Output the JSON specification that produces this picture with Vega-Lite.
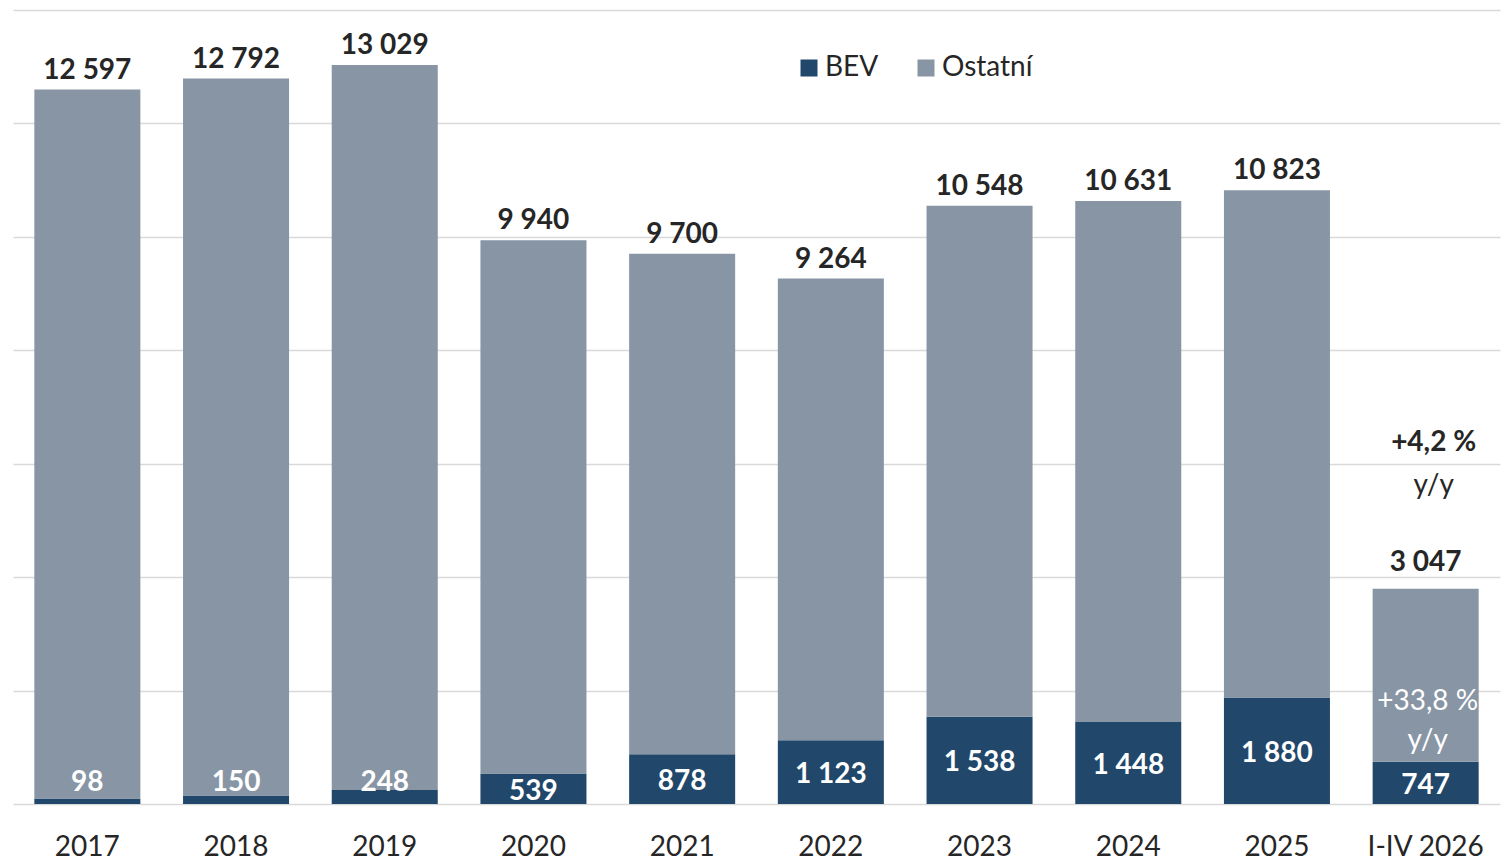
{
  "$schema": "https://vega.github.io/schema/vega-lite/v6.json",
  "width": 1487,
  "height": 794,
  "autosize": {"type": "none"},
  "padding": {"left": 13, "top": 10, "right": 4, "bottom": 55},
  "config": {
    "locale": {"number": {"decimal": ",", "thousands": " ", "grouping": [3], "currency": ["", ""]}},
    "view": {"stroke": null},
    "font": "Lato"
  },
  "datasets": {
    "sales": [
      {"year": "2017", "type": "BEV", "value": 98, "total": 12597},
      {"year": "2017", "type": "Ostatní", "value": 12499, "total": 12597},
      {"year": "2018", "type": "BEV", "value": 150, "total": 12792},
      {"year": "2018", "type": "Ostatní", "value": 12642, "total": 12792},
      {"year": "2019", "type": "BEV", "value": 248, "total": 13029},
      {"year": "2019", "type": "Ostatní", "value": 12781, "total": 13029},
      {"year": "2020", "type": "BEV", "value": 539, "total": 9940},
      {"year": "2020", "type": "Ostatní", "value": 9401, "total": 9940},
      {"year": "2021", "type": "BEV", "value": 878, "total": 9700},
      {"year": "2021", "type": "Ostatní", "value": 8822, "total": 9700},
      {"year": "2022", "type": "BEV", "value": 1123, "total": 9264},
      {"year": "2022", "type": "Ostatní", "value": 8141, "total": 9264},
      {"year": "2023", "type": "BEV", "value": 1538, "total": 10548},
      {"year": "2023", "type": "Ostatní", "value": 9010, "total": 10548},
      {"year": "2024", "type": "BEV", "value": 1448, "total": 10631},
      {"year": "2024", "type": "Ostatní", "value": 9183, "total": 10631},
      {"year": "2025", "type": "BEV", "value": 1880, "total": 10823},
      {"year": "2025", "type": "Ostatní", "value": 8943, "total": 10823},
      {"year": "I-IV 2026", "type": "BEV", "value": 747, "total": 3047},
      {"year": "I-IV 2026", "type": "Ostatní", "value": 3047, "total": 3047}
    ],
    "notes": [
      {"year": "I-IV 2026", "label": "+4,2 %", "kind": "total_pct"},
      {"year": "I-IV 2026", "label": "y/y", "kind": "total_yy"},
      {"year": "I-IV 2026", "label": "+33,8 %", "kind": "bev_pct"},
      {"year": "I-IV 2026", "label": "y/y", "kind": "bev_yy"}
    ]
  },
  "resolve": {"scale": {"y": "independent"}},
  "layer": [
    {
      "data": {"name": "sales"},
      "mark": {"type": "bar"},
      "encoding": {
        "x": {
          "field": "year", "type": "nominal", "sort": null,
          "scale": {"paddingInner": 0.287, "paddingOuter": 0.1435},
          "axis": {"title": null, "labelFont": "Lato", "labelFontSize": 28, "labelColor": "#262626", "ticks": false, "domain": false, "labelPadding": 29, "labelAngle": 0}
        },
        "y": {
          "field": "value", "type": "quantitative", "stack": "zero",
          "scale": {"domain": [0, 14000], "nice": false},
          "axis": {"title": null, "values": [0, 2000, 4000, 6000, 8000, 10000, 12000, 14000], "labels": false, "ticks": false, "domain": false, "grid": true, "gridColor": "#d9d9d9", "gridWidth": 1.5}
        },
        "color": {
          "field": "type", "type": "nominal",
          "scale": {"domain": ["BEV", "Ostatní"], "range": ["#21476a", "#8795a5"]},
          "legend": {"title": null, "orient": "none", "legendX": 782, "legendY": 44, "direction": "horizontal", "symbolType": "square", "symbolSize": 289, "symbolStrokeWidth": 0, "symbolOpacity": 1, "labelFont": "Lato", "labelFontSize": 28, "labelColor": "#262626", "labelOffset": 2, "columnPadding": 33, "padding": 0}
        },
        "order": {"field": "type", "sort": "ascending"}
      }
    },
    {
      "data": {"name": "sales"},
      "transform": [
        {"joinaggregate": [{"op": "sum", "field": "value", "as": "top"}], "groupby": ["year"]},
        {"filter": "datum.type === 'Ostatní' && datum.year !== 'I-IV 2026'"}
      ],
      "mark": {"type": "text", "font": "Lato", "fontSize": 28, "fontWeight": "bold", "color": "#262626", "baseline": "alphabetic", "dy": -11},
      "encoding": {
        "x": {"field": "year", "type": "nominal", "sort": null},
        "y": {"field": "top", "type": "quantitative", "scale": {"domain": [0, 14000], "nice": false}, "axis": null},
        "text": {"field": "total", "type": "quantitative", "format": ",d"}
      }
    },
    {
      "data": {"name": "sales"},
      "transform": [
        {"joinaggregate": [{"op": "sum", "field": "value", "as": "top"}], "groupby": ["year"]},
        {"filter": "datum.type === 'Ostatní' && datum.year === 'I-IV 2026'"}
      ],
      "mark": {"type": "text", "font": "Lato", "fontSize": 28, "fontWeight": "bold", "color": "#262626", "baseline": "alphabetic", "dy": -18},
      "encoding": {
        "x": {"field": "year", "type": "nominal", "sort": null},
        "y": {"field": "top", "type": "quantitative", "scale": {"domain": [0, 14000], "nice": false}, "axis": null},
        "text": {"field": "total", "type": "quantitative", "format": ",d"}
      }
    },
    {
      "data": {"name": "sales"},
      "transform": [{"filter": "datum.type === 'BEV' && datum.value >= 500"}],
      "mark": {"type": "text", "font": "Lato", "fontSize": 28, "fontWeight": "bold", "color": "#ffffff", "baseline": "middle", "dy": 3},
      "encoding": {
        "x": {"field": "year", "type": "nominal", "sort": null},
        "y": {"field": "value", "type": "quantitative", "scale": {"domain": [0, 28000], "nice": false}, "axis": null},
        "text": {"field": "value", "type": "quantitative", "format": ",d"}
      }
    },
    {
      "data": {"name": "sales"},
      "transform": [{"filter": "datum.type === 'BEV' && datum.value < 500"}],
      "mark": {"type": "text", "font": "Lato", "fontSize": 28, "fontWeight": "bold", "color": "#ffffff", "baseline": "middle", "dy": 3},
      "encoding": {
        "x": {"field": "year", "type": "nominal", "sort": null},
        "y": {"datum": 416, "type": "quantitative", "scale": {"domain": [0, 14000], "nice": false}, "axis": null},
        "text": {"field": "value", "type": "quantitative", "format": ",d"}
      }
    },
    {
      "data": {"name": "notes"},
      "transform": [{"filter": "datum.kind === 'total_pct'"}],
      "mark": {"type": "text", "font": "Lato", "fontSize": 28, "fontWeight": "bold", "color": "#262626", "baseline": "alphabetic", "dx": 8},
      "encoding": {
        "x": {"field": "year", "type": "nominal", "sort": null},
        "y": {"datum": 6217, "type": "quantitative", "scale": {"domain": [0, 14000], "nice": false}, "axis": null},
        "text": {"field": "label"}
      }
    },
    {
      "data": {"name": "notes"},
      "transform": [{"filter": "datum.kind === 'total_yy'"}],
      "mark": {"type": "text", "font": "Lato", "fontSize": 28, "color": "#262626", "baseline": "alphabetic", "dx": 8},
      "encoding": {
        "x": {"field": "year", "type": "nominal", "sort": null},
        "y": {"datum": 5466, "type": "quantitative", "scale": {"domain": [0, 14000], "nice": false}, "axis": null},
        "text": {"field": "label"}
      }
    },
    {
      "data": {"name": "notes"},
      "transform": [{"filter": "datum.kind === 'bev_pct'"}],
      "mark": {"type": "text", "font": "Lato", "fontSize": 28, "color": "#ffffff", "baseline": "alphabetic", "dx": 2},
      "encoding": {
        "x": {"field": "year", "type": "nominal", "sort": null},
        "y": {"datum": 1650, "type": "quantitative", "scale": {"domain": [0, 14000], "nice": false}, "axis": null},
        "text": {"field": "label"}
      }
    },
    {
      "data": {"name": "notes"},
      "transform": [{"filter": "datum.kind === 'bev_yy'"}],
      "mark": {"type": "text", "font": "Lato", "fontSize": 28, "color": "#ffffff", "baseline": "alphabetic", "dx": 2},
      "encoding": {
        "x": {"field": "year", "type": "nominal", "sort": null},
        "y": {"datum": 966, "type": "quantitative", "scale": {"domain": [0, 14000], "nice": false}, "axis": null},
        "text": {"field": "label"}
      }
    }
  ]
}
